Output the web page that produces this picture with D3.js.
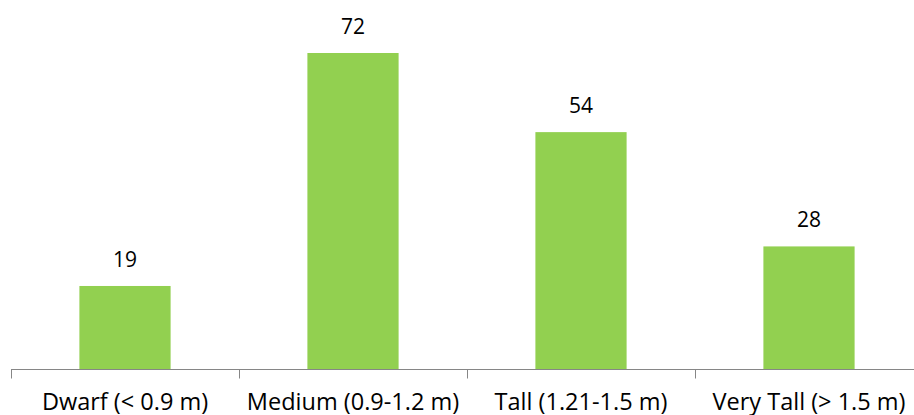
<!DOCTYPE html>
<html>
<head>
<meta charset="utf-8">
<script src="https://cdn.jsdelivr.net/npm/d3@7"></script>
<style>
  html, body { margin: 0; padding: 0; background: #fff; }
  svg { display: block; }
  text { font-family: "Open Sans", sans-serif; fill: #000; }
</style>
</head>
<body>
<svg id="chart" width="914" height="415"></svg>
<script>
const categories = ["Dwarf (< 0.9 m)", "Medium (0.9-1.2 m)", "Tall (1.21-1.5 m)", "Very Tall (> 1.5 m)"];
const values = [19, 72, 54, 28];

const svg = d3.select("#chart");
const baseY = 369.5;
const x = d3.scaleBand().domain(categories).range([11, 923]).paddingInner(0.6).paddingOuter(0.3);
const y = d3.scaleLinear().domain([0, 72]).range([baseY, 53]);

// bars
svg.selectAll("rect.bar").data(categories).enter().append("rect")
  .attr("class", "bar")
  .attr("x", d => x(d))
  .attr("width", x.bandwidth())
  .attr("y", (d, i) => y(values[i]))
  .attr("height", (d, i) => y(0) - y(values[i]))
  .attr("fill", "#92d050");

// value labels
svg.selectAll("text.val").data(categories).enter().append("text")
  .attr("class", "val")
  .attr("x", d => x(d) + x.bandwidth() / 2)
  .attr("y", (d, i) => y(values[i]) - 19)
  .attr("text-anchor", "middle")
  .attr("font-size", 21)
  .text((d, i) => values[i]);

// axis
const step = x.step();
const x0 = x.range()[0];
const boundaries = d3.range(categories.length + 1).map(i => x0 + i * step);
svg.append("line")
  .attr("x1", x0).attr("x2", 914)
  .attr("y1", baseY).attr("y2", baseY)
  .attr("stroke", "#868686").attr("stroke-width", 1);
svg.selectAll("line.tick").data(boundaries).enter().append("line")
  .attr("class", "tick")
  .attr("x1", d => Math.round(d) + 0.5).attr("x2", d => Math.round(d) + 0.5)
  .attr("y1", baseY).attr("y2", baseY + 9)
  .attr("stroke", "#868686").attr("stroke-width", 1);

// category labels
svg.selectAll("text.cat").data(categories).enter().append("text")
  .attr("class", "cat")
  .attr("x", d => x(d) + x.bandwidth() / 2)
  .attr("y", 410)
  .attr("text-anchor", "middle")
  .attr("font-size", 23.5)
  .text(d => d);
</script>
</body>
</html>
